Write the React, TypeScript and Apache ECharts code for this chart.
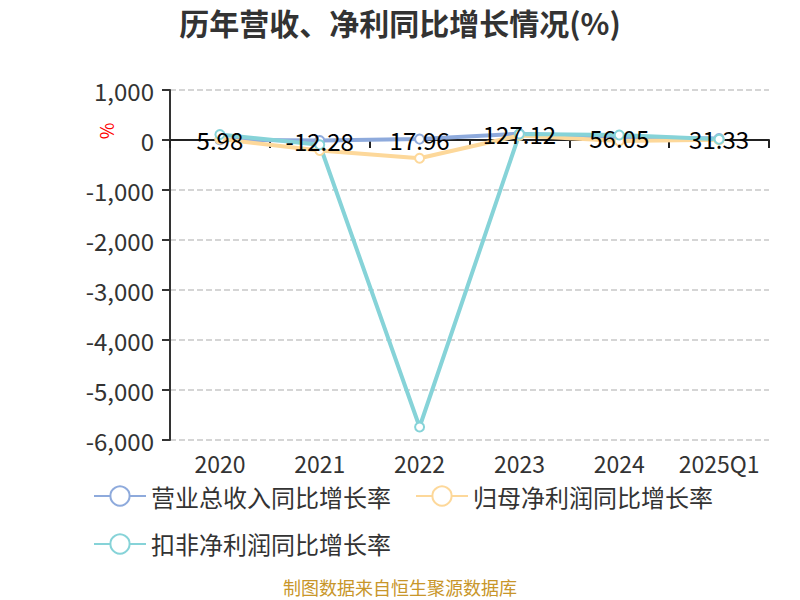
import React, { useEffect, useRef } from "react";
import * as echarts from "echarts";

const categories = ["2020", "2021", "2022", "2023", "2024", "2025Q1"];
const revenueGrowth = [5.98, -12.28, 17.96, 127.12, 56.05, 31.33];
const netProfitGrowth = [20, -210, -365, 90, -20, 5];
const deductedProfitGrowth = [110, -95, -5740, 120, 100, 15];
const seriesNames = ["营业总收入同比增长率", "归母净利润同比增长率", "扣非净利润同比增长率"];
const colors = ["#8eaadc", "#fdd89a", "#86d3d8"];

const FONT = "'Noto Sans CJK SC', 'Noto Sans', sans-serif";

export default function App() {
  const ref = useRef<HTMLDivElement>(null);
  useEffect(() => {
    if (!ref.current) return;
    const chart = echarts.init(ref.current, undefined, { renderer: "svg" });
    const mk = (name: string, data: number[], color: string, label: boolean) => ({
      name,
      type: "line",
      data,
      color,
      symbol: "emptyCircle",
      symbolSize: 9,
      lineStyle: { width: 4, color },
      itemStyle: { color, borderWidth: 2 },
      label: label
        ? { show: true, position: "inside", color: "#000", fontSize: 24, fontFamily: FONT }
        : { show: false },
    });
    chart.setOption({
      animation: false,
      textStyle: { fontFamily: FONT },
      title: {
        text: "历年营收、净利同比增长情况(%)",
        left: "center",
        top: 2,
        textStyle: { fontSize: 30, fontWeight: "bold", color: "#333", fontFamily: FONT },
      },
      legend: {
        left: 88,
        top: 479,
        width: 660,
        itemWidth: 52,
        itemHeight: 24,
        itemGap: 24,
        textStyle: { fontSize: 24, color: "#333", fontFamily: FONT },
        data: seriesNames,
      },
      grid: { left: 170, right: 31, top: 90, bottom: 160 },
      xAxis: [
        {
          type: "category",
          data: categories,
          position: "bottom",
          axisLine: { onZero: true, lineStyle: { color: "#222", width: 2 } },
          axisTick: { show: true, length: 8, lineStyle: { color: "#222", width: 2 } },
          axisLabel: { show: false },
        },
        {
          type: "category",
          data: categories,
          position: "bottom",
          axisLine: { show: false, onZero: false },
          axisTick: { show: false },
          axisLabel: { show: true, interval: 0, fontSize: 23, color: "#333", margin: 11, fontFamily: FONT },
        },
      ],
      yAxis: {
        type: "value",
        min: -6000,
        max: 1000,
        interval: 1000,
        axisLine: { show: true, lineStyle: { color: "#333", width: 2 } },
        axisTick: { show: true, length: 8, lineStyle: { color: "#333", width: 2 } },
        axisLabel: { fontSize: 24, color: "#333", margin: 16, fontFamily: FONT },
        splitLine: { show: true, lineStyle: { type: "dashed", color: "#c8c8c8", width: 1.5 } },
      },
      graphic: [
        {
          type: "text",
          x: 106,
          y: 131,
          rotation: Math.PI / 2,
          style: { text: "%", fill: "#ff0000", fontSize: 18, fontFamily: FONT, align: "center", verticalAlign: "middle" },
        },
        {
          type: "text",
          left: "center",
          top: 578,
          style: { text: "制图数据来自恒生聚源数据库", fill: "#c8962a", fontSize: 18, fontFamily: FONT },
        },
      ],
      series: [
        mk(seriesNames[0], revenueGrowth, colors[0], true),
        mk(seriesNames[1], netProfitGrowth, colors[1], false),
        mk(seriesNames[2], deductedProfitGrowth, colors[2], false),
      ],
    });
    return () => chart.dispose();
  }, []);
  return <div ref={ref} style={{ position: "absolute", left: 0, top: 0, width: 800, height: 600 }} />;
}
